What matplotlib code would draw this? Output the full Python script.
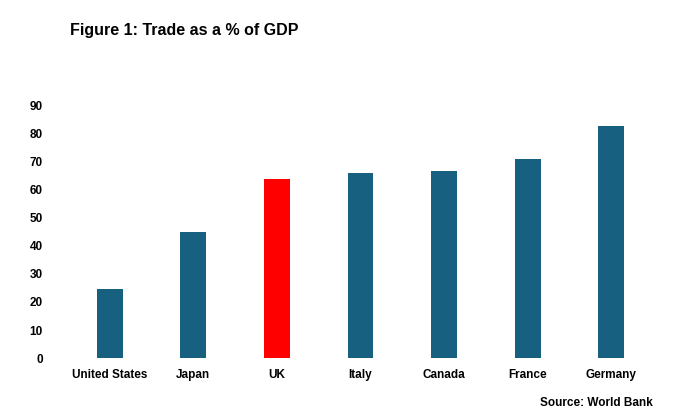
import matplotlib
matplotlib.use("Agg")
import matplotlib.pyplot as plt
import numpy as np

countries = ["United States", "Japan", "UK", "Italy", "Canada", "France", "Germany"]
trade_pct = [24.6, 44.9, 63.9, 66.0, 66.9, 71.1, 82.7]
highlight = "UK"

plt.rcParams['font.family'] = ['Liberation Sans', 'DejaVu Sans']

fig = plt.figure(figsize=(7, 4.12), dpi=100)
ax = fig.add_axes([0.097, 0.131, 0.836, 0.612])

x = np.arange(len(countries))
colors = ['#ff0000' if c == highlight else '#17607f' for c in countries]
ax.bar(x, trade_pct, width=0.31, color=colors)

ax.set_xlim(-0.5, len(countries) - 0.5)
ax.set_ylim(0, 90)
ax.set_yticks(np.arange(0, 91, 10))
ax.set_xticks(x)
ax.set_xticklabels(countries)
for lab in ax.get_xticklabels() + ax.get_yticklabels():
    lab.set_fontweight('bold')
    lab.set_fontsize(8.5)
ax.tick_params(axis='both', length=0)
ax.tick_params(axis='y', pad=18)
ax.tick_params(axis='x', pad=8)
for s in ax.spines.values():
    s.set_visible(False)

fig.text(0.1, 0.927, "Figure 1: Trade as a % of GDP", fontsize=11.5,
         fontweight='bold', va='center', ha='left')
fig.text(0.933, 0.022, "Source: World Bank", fontsize=8.5,
         fontweight='bold', va='center', ha='right')

fig.savefig("out.png", dpi=100)
